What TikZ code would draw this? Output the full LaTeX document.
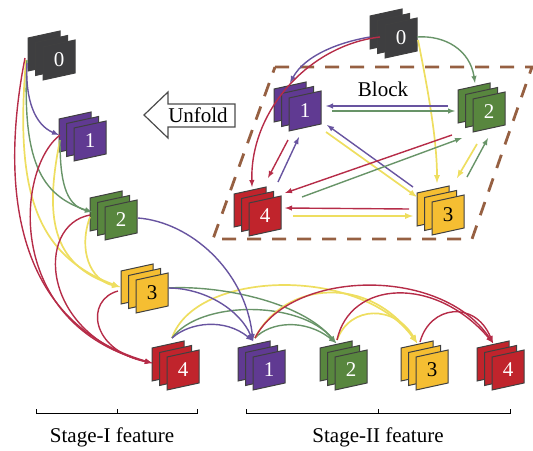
\documentclass[tikz,border=0pt]{standalone}
\usepackage{fontspec}
\setmainfont{Liberation Serif}
\usetikzlibrary{arrows}

\definecolor{cdark}{RGB}{62, 62, 64}
\definecolor{cpurple}{RGB}{96, 58, 146}
\definecolor{cgreen}{RGB}{88, 134, 62}
\definecolor{cyellow}{RGB}{245, 190, 50}
\definecolor{cred}{RGB}{192, 36, 44}
\definecolor{lpurple}{RGB}{104, 84, 160}
\definecolor{lgreen}{RGB}{104, 148, 104}
\definecolor{lyellow}{RGB}{238, 222, 96}
\definecolor{lred}{RGB}{182, 44, 72}
\definecolor{lbrown}{RGB}{150, 96, 66}

% three sheets, the named node is the front one
\newcommand{\featstack}[6]{
  \foreach \d in {15,7.5,0}
    \draw [sheet, fill=#4, shift={(#2-\d,#3-.6*\d)}]
      (-16,-13) -- (16,-20) -- (16,13) -- (-16,20) -- cycle;
  \node at (#2,#3) (#1) [stacklabel, text=#5] {#6};
}

\begin{document}
\begin{tikzpicture}[
    x=1pt, y=-1pt,
    sheet/.style={draw=black!75, line width=1pt},
    stacklabel/.style={font=\fontsize{21}{21}\selectfont, inner sep=1pt, minimum width=32pt, minimum height=34pt},
    flow/.style={-latex, line width=1.4pt},
    flowp/.style={flow, lpurple},
    flowg/.style={flow, lgreen},
    flowy/.style={flow, lyellow, line width=1.7pt},
    flowr/.style={flow, lred},
    caption/.style={font=\fontsize{21}{21}\selectfont, inner sep=0pt}
  ]

  \useasboundingbox (0,0) rectangle (533,450);

  % block frame
  \draw [lbrown, line width=2.8pt, dash pattern=on 14pt off 11pt]
    (275,67) -- (532,67) -- (472,239) -- (213,239) -- cycle;

  \node at (383,89) (block) [caption] {Block};

  % unfold arrow
  \draw [fill=white, draw=black!70, line width=1.2pt]
    (144,115) -- (168,92) -- (168,104) -- (235,104) -- (235,127) -- (168,127) -- (168,138) -- cycle;
  \node at (198,115) (unfold) [caption] {Unfold};

  % stage I
  \featstack{s0}{59}{60}{cdark}{white}{0}
  \featstack{s1}{90}{141}{cpurple}{white}{1}
  \featstack{s2}{121}{220}{cgreen}{white}{2}
  \featstack{s3}{152}{293}{cyellow}{black}{3}
  \featstack{s4}{183}{370}{cred}{white}{4}

  % stage II
  \featstack{t1}{269}{370}{cpurple}{white}{1}
  \featstack{t2}{351}{370}{cgreen}{white}{2}
  \featstack{t3}{432}{370}{cyellow}{black}{3}
  \featstack{t4}{508}{370}{cred}{white}{4}

  % block
  \featstack{b0}{401}{38}{cdark}{white}{0}
  \featstack{b1}{305}{111}{cpurple}{white}{1}
  \featstack{b2}{489}{112}{cgreen}{white}{2}
  \featstack{b3}{448}{215}{cyellow}{black}{3}
  \featstack{b4}{265}{216}{cred}{white}{4}

  % stage I, into the next stacks
  \draw [flowy] ([shift={(-33,0)}]s0.center) .. controls (15,190) and (35,255) .. ([shift={(-32,-6)}]s3.center);
  \draw [flowy] ([shift={(-30,-1)}]s1.center) .. controls (45,215) and (50,265) .. ([shift={(-32,-6)}]s3.center);
  \draw [flowy] ([shift={(-31,-3)}]s2.center) .. controls (78,250) and (90,280) .. ([shift={(-32,-6)}]s3.center);
  \draw [flowg] ([shift={(-32,0)}]s0.center) .. controls (22,160) and (40,195) .. ([shift={(-29,-8)}]s2.center);
  \draw [flowg] ([shift={(-30,-1)}]s1.center) .. controls (60,180) and (65,205) .. ([shift={(-29,-8)}]s2.center);
  \draw [flowp] ([shift={(-32,3)}]s0.center) .. controls (25,100) and (35,125) .. ([shift={(-31,-6)}]s1.center);
  \draw [flowr] ([shift={(-34,-2)}]s0.center) .. controls (3,170) and (5,320) .. ([shift={(-31,-7)}]s4.center);
  \draw [flowr] ([shift={(-30,-6)}]s1.center) .. controls (15,170) and (5,325) .. ([shift={(-31,-7)}]s4.center);
  \draw [flowr] ([shift={(-31,-5)}]s2.center) .. controls (35,225) and (40,335) .. ([shift={(-31,-7)}]s4.center);
  \draw [flowr] ([shift={(-34,-2)}]s3.center) .. controls (85,300) and (90,350) .. ([shift={(-31,-7)}]s4.center);

  % across the stages
  \draw [flowy] ([shift={(-11,-32)}]s4.center) .. controls (195,270) and (360,265) .. ([shift={(-15,-27)}]t3.center);
  \draw [flowg] ([shift={(-11,-32)}]s4.center) .. controls (200,300) and (300,300) .. ([shift={(-15,-27)}]t2.center);
  \draw [flowp] ([shift={(-11,-32)}]s4.center) .. controls (190,322) and (225,318) .. ([shift={(-16,-29)}]t1.center);
  \draw [flowg] ([shift={(16,-5)}]s3.center) .. controls (215,285) and (300,300) .. ([shift={(-15,-27)}]t2.center);
  \draw [flowp] ([shift={(16,-5)}]s3.center) .. controls (205,288) and (240,310) .. ([shift={(-16,-29)}]t1.center);
  \draw [flowp] ([shift={(17,-2)}]s2.center) .. controls (190,222) and (245,270) .. ([shift={(-16,-29)}]t1.center);

  % stage II
  \draw [flowg] ([shift={(-14,-32)}]t1.center) .. controls (270,322) and (305,318) .. ([shift={(-15,-27)}]t2.center);
  \draw [flowy] ([shift={(-14,-32)}]t1.center) .. controls (285,280) and (370,275) .. ([shift={(-15,-27)}]t3.center);
  \draw [flowy] ([shift={(-14,-30)}]t2.center) .. controls (350,305) and (395,305) .. ([shift={(-15,-27)}]t3.center);
  \draw [flowr] ([shift={(-14,-32)}]t1.center) .. controls (290,270) and (440,265) .. ([shift={(-15,-27)}]t4.center);
  \draw [flowr] ([shift={(-14,-30)}]t2.center) .. controls (350,280) and (435,275) .. ([shift={(-15,-27)}]t4.center);
  \draw [flowr] ([shift={(-12,-28)}]t3.center) .. controls (430,305) and (475,300) .. ([shift={(-15,-27)}]t4.center);

  % inside the block
  \draw [flowp] ([shift={(-31,-1)}]b0.center) .. controls (340,42) and (305,55) .. ([shift={(-15,-28)}]b1.center);
  \draw [flowr] ([shift={(-21,-1)}]b0.center) .. controls (310,45) and (250,110) .. ([shift={(-13,-29)}]b4.center);
  \draw [flowg] ([shift={(16,-1)}]b0.center) .. controls (445,35) and (470,50) .. ([shift={(-14,-29)}]b2.center);
  \draw [flowy] ([shift={(17,2)}]b0.center) .. controls (428,90) and (437,140) .. ([shift={(-11,-32)}]b3.center);
  \draw [flowp] ([shift={(-41,-6)}]b2.center) -- ([shift={(21,-5)}]b1.center);
  \draw [flowg] ([shift={(27,0)}]b1.center) -- ([shift={(-34,-1)}]b2.center);
  \draw [flowy] ([shift={(21,21)}]b1.center) -- ([shift={(-31,-18)}]b3.center);
  \draw [flowp] ([shift={(-35,-28)}]b3.center) -- ([shift={(22,14)}]b1.center);
  \draw [flowr] ([shift={(-37,23)}]b2.center) -- ([shift={(20,-23)}]b4.center);
  \draw [flowg] ([shift={(37,-19)}]b4.center) -- ([shift={(-27,26)}]b2.center);
  \draw [flowr] ([shift={(-17,29)}]b1.center) -- ([shift={(3,-38)}]b4.center);
  \draw [flowp] ([shift={(13,-34)}]b4.center) -- ([shift={(-6,26)}]b1.center);
  \draw [flowr] ([shift={(-39,-6)}]b3.center) -- ([shift={(20,-8)}]b4.center);
  \draw [flowy] ([shift={(28,0)}]b4.center) -- ([shift={(-35,1)}]b3.center);
  \draw [flowy] ([shift={(-12,32)}]b2.center) -- ([shift={(9,-37)}]b3.center);
  \draw [flowg] ([shift={(19,-38)}]b3.center) -- ([shift={(-1,26)}]b2.center);

  % feature brackets
  \draw [line width=1pt] (36,409) -- (36,413) -- (197,413) -- (197,409) (117,409) -- (117,413);
  \draw [line width=1pt] (246,409) -- (246,413) -- (510,413) -- (510,409) (378,409) -- (378,413);
  \node at (112,437) (stageone) [caption] {Stage-I feature};
  \node at (378,437) (stagetwo) [caption] {Stage-II feature};

\end{tikzpicture}
\end{document}
